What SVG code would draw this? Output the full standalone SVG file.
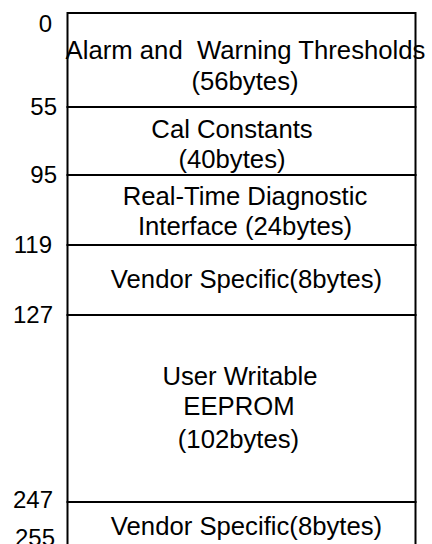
<svg xmlns="http://www.w3.org/2000/svg" width="432" height="544" viewBox="0 0 432 544">
<style>
.sec{fill:#fff;stroke:#000;stroke-width:2}
.t{font-family:"Liberation Sans",Arial,sans-serif;font-size:25.7px;fill:#000;text-anchor:middle;white-space:pre}
.n{font-family:"Liberation Sans",Arial,sans-serif;font-size:24px;fill:#000;text-anchor:end}
</style>
<rect width="432" height="544" fill="#fff"/>
<g id="alarm-thresholds">
<rect class="sec" x="67.5" y="13" width="348" height="94"/>
<text class="t" x="245.5" y="59" xml:space="preserve">Alarm and  Warning Thresholds</text>
<text class="t" x="245" y="90">(56bytes)</text>
</g>
<g id="cal-constants">
<rect class="sec" x="67.5" y="107" width="348" height="68"/>
<text class="t" x="232" y="138">Cal Constants</text>
<text class="t" x="232" y="168">(40bytes)</text>
</g>
<g id="rt-diagnostic">
<rect class="sec" x="67.5" y="175" width="348" height="70"/>
<text class="t" x="245" y="205">Real-Time Diagnostic</text>
<text class="t" x="245" y="235">Interface (24bytes)</text>
</g>
<g id="vendor-specific-1">
<rect class="sec" x="67.5" y="245" width="348" height="70"/>
<text class="t" x="246.5" y="288">Vendor Specific(8bytes)</text>
</g>
<g id="user-eeprom">
<rect class="sec" x="67.5" y="315" width="348" height="187"/>
<text class="t" x="240" y="385">User Writable</text>
<text class="t" x="239" y="415">EEPROM</text>
<text class="t" x="238.5" y="448">(102bytes)</text>
</g>
<g id="vendor-specific-2">
<rect class="sec" x="67.5" y="502" width="348" height="60"/>
<text class="t" x="246.5" y="535">Vendor Specific(8bytes)</text>
</g>
<g id="offsets">
<text class="n" x="52" y="32">0</text>
<text class="n" x="57" y="115">55</text>
<text class="n" x="57" y="183">95</text>
<text class="n" x="52" y="253">119</text>
<text class="n" x="53" y="323">127</text>
<text class="n" x="53" y="508">247</text>
<text class="n" x="55" y="546">255</text>
</g>
<g id="connectors"/>
</svg>
